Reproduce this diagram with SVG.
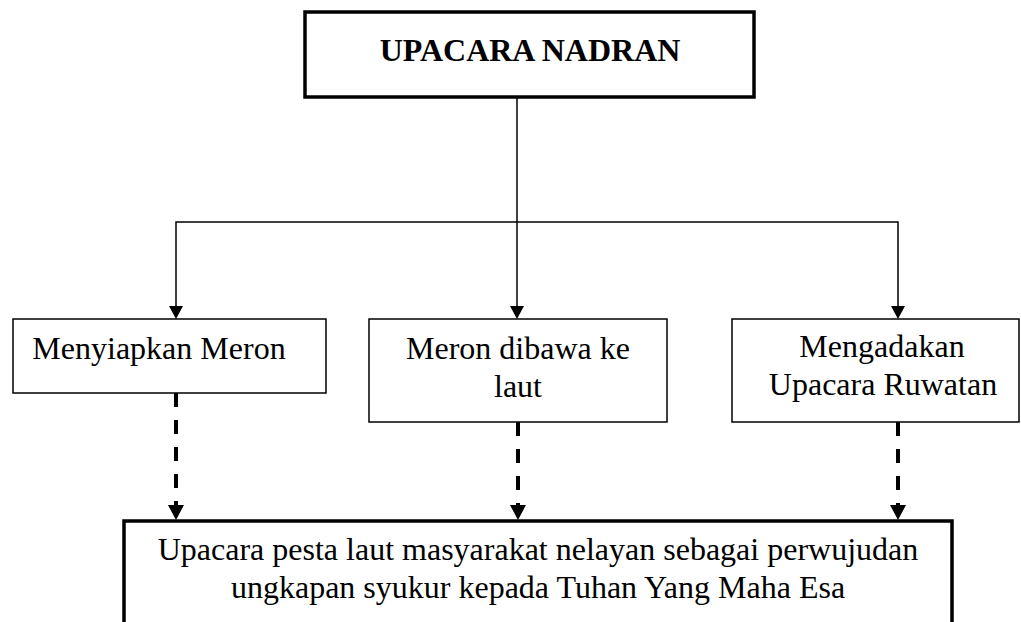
<svg xmlns="http://www.w3.org/2000/svg" width="1021" height="622" viewBox="0 0 1021 622">
  <style>
    .box { fill: #ffffff; stroke: #000000; stroke-width: 1.5; }
    .thick { fill: #ffffff; stroke: #000000; stroke-width: 3.5; }
    .txt { font-family: "Liberation Serif", "Times New Roman", serif; font-size: 32px; fill: #000000; text-anchor: middle; }
    .title { font-weight: bold; font-size: 32px; }
    .solid { fill: none; stroke: #000000; stroke-width: 1.5; }
    .dash { fill: none; stroke: #000000; stroke-width: 4; stroke-dasharray: 14 13; }
  </style>
  <defs>
    <marker id="arr" markerUnits="userSpaceOnUse" viewBox="0 0 13 14" markerWidth="13" markerHeight="14" refX="0" refY="7" orient="auto">
      <path d="M0,0 L13,7 L0,14 Z" fill="#000000"/>
    </marker>
    <marker id="arrD" markerUnits="userSpaceOnUse" viewBox="0 0 15 16" markerWidth="15" markerHeight="16" refX="0" refY="8" orient="auto">
      <path d="M0,0 L15,8 L0,16 Z" fill="#000000"/>
    </marker>
  </defs>

  <g id="connectors">
    <path class="solid" d="M517,97 L517,306" marker-end="url(#arr)"/>
    <path class="solid" d="M517,222 L176,222 L176,306" marker-end="url(#arr)"/>
    <path class="solid" d="M517,222 L898,222 L898,306" marker-end="url(#arr)"/>
    <path class="dash" d="M176,393 L176,505" marker-end="url(#arrD)"/>
    <path class="dash" d="M518,422 L518,505" marker-end="url(#arrD)"/>
    <path class="dash" d="M898,422 L898,505" marker-end="url(#arrD)"/>
  </g>

  <g id="node-upacara-nadran">
    <rect class="thick" x="305" y="12" width="449" height="85"/>
    <text class="txt title" x="530" y="61">UPACARA NADRAN</text>
  </g>

  <g id="node-menyiapkan-meron">
    <rect class="box" x="13" y="319" width="313" height="74"/>
    <text class="txt" x="159" y="359">Menyiapkan Meron</text>
  </g>

  <g id="node-meron-dibawa">
    <rect class="box" x="369" y="319" width="298" height="103"/>
    <text class="txt" x="518" y="359">Meron dibawa ke</text>
    <text class="txt" x="518" y="397">laut</text>
  </g>

  <g id="node-mengadakan-ruwatan">
    <rect class="box" x="732" y="319" width="287" height="103"/>
    <text class="txt" x="882" y="357">Mengadakan</text>
    <text class="txt" x="883" y="395">Upacara Ruwatan</text>
  </g>

  <g id="node-pesta-laut">
    <rect class="thick" x="124" y="521" width="828" height="110"/>
    <text class="txt" x="538" y="560">Upacara pesta laut masyarakat nelayan sebagai perwujudan</text>
    <text class="txt" x="538" y="598">ungkapan syukur kepada Tuhan Yang Maha Esa</text>
  </g>
</svg>
